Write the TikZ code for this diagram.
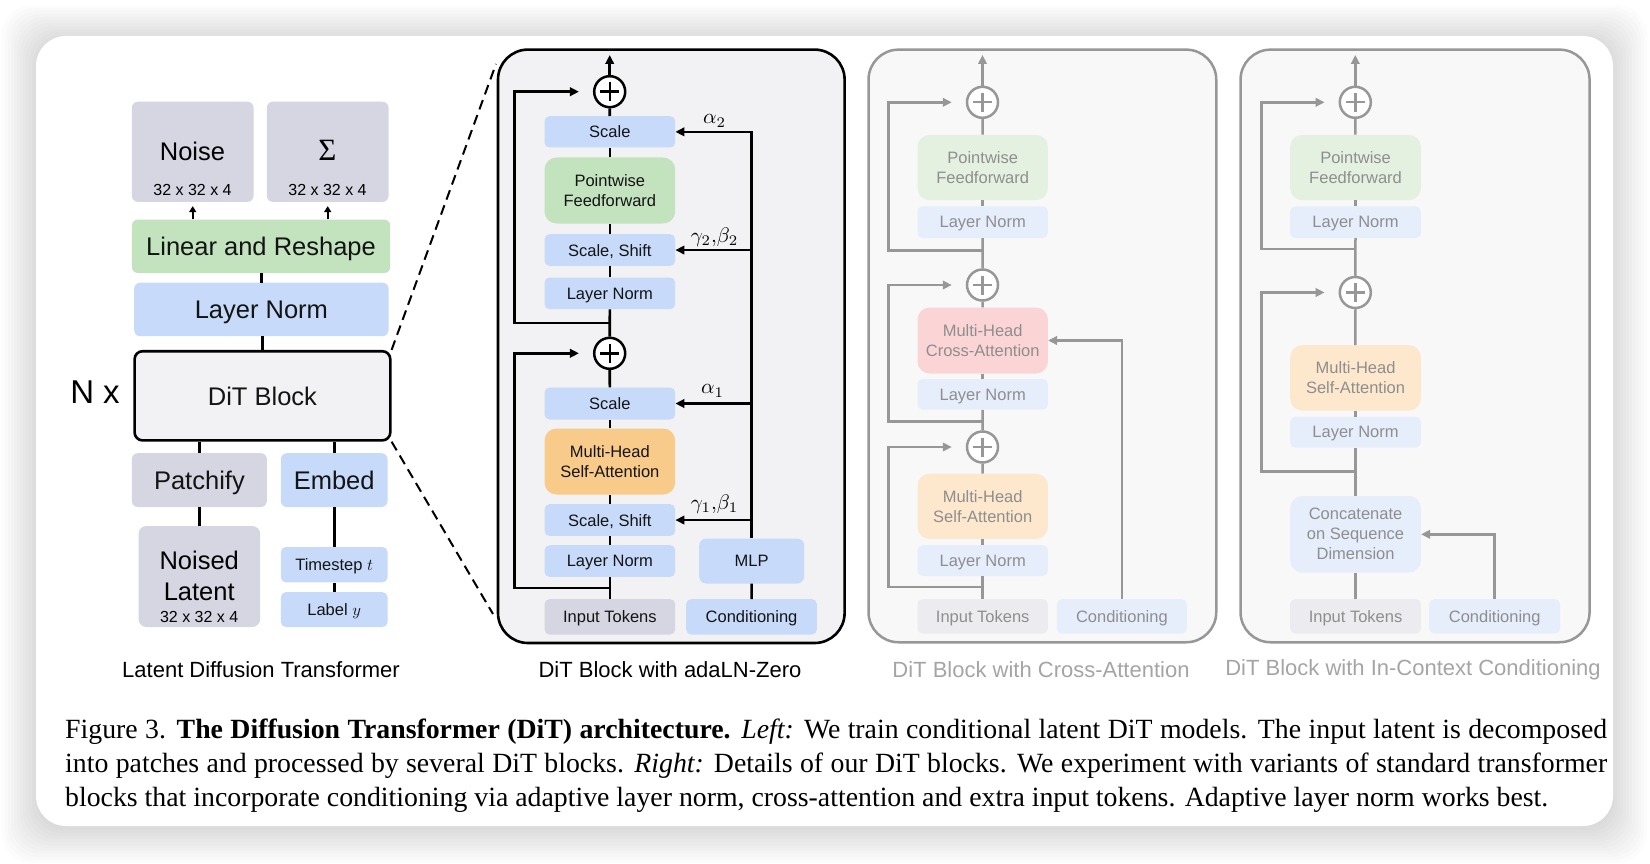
\documentclass[tikz,border=0pt]{standalone}
\usepackage{fontspec}
\setmainfont{Liberation Sans}
\newfontfamily\capserif{Liberation Serif}
\usetikzlibrary{arrows.meta,calc}

\definecolor{boxgray}{HTML}{D5D6E2}
\definecolor{boxgreen}{HTML}{C3E2BE}
\definecolor{boxblue}{HTML}{C7DAFA}
\definecolor{boxorange}{HTML}{F8CB8A}
\definecolor{blockfill}{HTML}{F2F2F5}
\definecolor{fpanel}{HTML}{F8F8F8}
\definecolor{fline}{HTML}{979797}
\definecolor{ftext}{HTML}{8E8E8E}
\definecolor{fgreen}{HTML}{E4F1E1}
\definecolor{fblue}{HTML}{E6EEFC}
\definecolor{fred}{HTML}{FBD5D5}
\definecolor{forange}{HTML}{FDE8CD}
\definecolor{fgray}{HTML}{ECECF0}
\definecolor{ftitle}{HTML}{A5A5A5}

\newcommand\bx[7]{\node[#2, anchor=north west, minimum width={#5-#3}, minimum height={#6-#4}] (#1) at (#3,#4) {#7};}
\newcommand\mth[2]{{\fontsize{10}{12}\selectfont\scalebox{#1}{$#2$}}}

\begin{document}
\begin{tikzpicture}[x=1pt,y=-1pt,
  lbox/.style={rectangle, rounded corners=6pt, inner sep=0pt, align=center, text=black!92, text depth=0pt, font=\fontsize{25.5}{30}\selectfont},
  sbox/.style={rectangle, rounded corners=5pt, inner sep=0pt, align=center, text=black!92, text depth=0pt, font=\fontsize{16.5}{20}\selectfont},
  mbox/.style={rectangle, rounded corners=12pt, inner sep=0pt, align=center, text=black!92, font=\fontsize{16.5}{20}\selectfont},
  fbox/.style={sbox, text=ftext},
  fmbox/.style={mbox, text=ftext},
  blk/.style={line width=2.6pt, draw=black},
  gl/.style={line width=2.5pt, draw=fline},
  arr/.style={-{Triangle[length=9pt,width=8.5pt]}},
  ttl/.style={font=\fontsize{22}{26}\selectfont},
  mlbl/.style={inner sep=0pt},
  plusc/.style={circle, draw=#1, line width=2.5pt, minimum size=31pt, inner sep=0pt, fill=white,
    path picture={\draw[#1, line width=2.4pt] (path picture bounding box.center) +(-9.5,0) -- +(9.5,0) +(0,-9.5) -- +(0,9.5);}},
  plusc/.default=black,
  capl/.style={anchor=base west, inner sep=0pt}
]
\useasboundingbox (0,0) rectangle (1650,864);
\fill[white] (0,0) rectangle (1650,864);
\foreach \r in {34,31,...,1} \fill[black, opacity=0.011, rounded corners=30pt] (36-\r,36-\r+3) rectangle (1613+\r,826+\r+3);
\fill[white, rounded corners=30pt] (36,36) rectangle (1613,826);

% ---------------- Left panel ----------------
\bx{noise}{lbox,fill=boxgray}{131.7}{101.5}{253.3}{201.7}{}
\bx{sigma}{lbox,fill=boxgray}{266.7}{101.5}{388.3}{201.7}{}
\node[font=\fontsize{25.5}{30}\selectfont, inner sep=0pt] (noiset) at (192.5,151) {Noise};
\node[font=\fontsize{16}{19}\selectfont, inner sep=0pt] (noised) at (192.5,190) {32 x 32 x 4};
\node[font=\capserif\fontsize{31}{31}\selectfont, inner sep=0pt] (sigmat) at (327.5,150) {Σ};
\node[font=\fontsize{16}{19}\selectfont, inner sep=0pt] (sigmad) at (327.5,190) {32 x 32 x 4};

\bx{lin}{lbox,fill=boxgreen}{131.7}{219.4}{390}{272.8}{Linear and Reshape}
\bx{lnl}{lbox,fill=boxblue}{134}{282.5}{388.3}{336}{Layer Norm}
\bx{dit}{lbox,fill=blockfill,draw=black,line width=2.6pt,rounded corners=8pt}{133.3}{349.9}{389}{439.1}{DiT Block}
\node[font=\fontsize{33}{36}\selectfont, inner sep=0pt] (nx) at (95,392) {N x};
\bx{patch}{lbox,fill=boxgray}{131.7}{453}{266.7}{506.8}{Patchify}
\bx{embed}{lbox,fill=boxblue}{280.7}{453}{387.3}{506.8}{Embed}
\bx{nl}{lbox,fill=boxgray,rounded corners=8pt}{138.3}{525.8}{260}{626.8}{}
\node[font=\fontsize{25.5}{31.6}\selectfont, align=center, inner sep=0pt] (nlt) at (199.2,576) {Noised\\Latent};
\node[font=\fontsize{16}{19}\selectfont, inner sep=0pt] (nld) at (199.2,616.7) {32 x 32 x 4};
\bx{ts}{sbox,fill=boxblue}{280.7}{546.8}{387.3}{582.2}{Timestep \mth{1.65}{t}}
\bx{lab}{sbox,fill=boxblue}{280.7}{591.9}{387.3}{626.8}{Label \mth{1.65}{y}}
\node[ttl] (ttlL) at (261,670) {Latent Diffusion Transformer};

\draw[line width=3pt] (dit.north) -- (dit.north |- lnl.south);
\draw[line width=3pt] (lnl.north) -- (lnl.north |- lin.south);
\draw[line width=2pt, -{Triangle[length=6pt,width=7pt]}, shorten >=4pt] (lin.north -| noise.south) -- (noise.south);
\draw[line width=2pt, -{Triangle[length=6pt,width=7pt]}, shorten >=4pt] (lin.north -| sigma.south) -- (sigma.south);
\draw[line width=3pt] (patch.north) -- (patch.north |- dit.south);
\draw[line width=3pt] (embed.north) -- (embed.north |- dit.south);
\draw[line width=3pt] (nl.north) -- (nl.north |- patch.south);
\draw[line width=3pt] (ts.north) -- (ts.north |- embed.south);
\draw[line width=3pt] (lab.north) -- (ts.south);

% zoom lines
\coordinate (dA) at (496,64);
\coordinate (dB) at (493,614);
\draw[line width=2pt, dash pattern=on 10pt off 6pt] (dit.north east) -- (dA);
\draw[line width=2pt, dash pattern=on 10pt off 6pt] (dit.south east) -- (dB);

% ---------------- adaLN-Zero panel ----------------
\bx{pA}{fill=blockfill,draw=black,line width=2.6pt,rounded corners=30pt,inner sep=0pt}{496.7}{48.3}{843.3}{641.7}{}
\bx{sc2}{sbox,fill=boxblue}{544.3}{116}{675}{147.3}{Scale}
\bx{pff}{mbox,fill=boxgreen}{544.3}{157.3}{675}{223.3}{Pointwise\\Feedforward}
\bx{ss2}{sbox,fill=boxblue}{544.3}{234}{675}{265.7}{Scale, Shift}
\bx{ln2}{sbox,fill=boxblue}{544.3}{277.3}{675}{309}{Layer Norm}
\node[plusc] (p1) at (609.7,353.3) {};
\node[plusc] (p2) at (609.7,91.7) {};
\bx{sc1}{sbox,fill=boxblue}{544.3}{387.3}{675}{419.3}{Scale}
\bx{mhsa}{mbox,fill=boxorange}{544.3}{428.3}{675}{494.3}{Multi-Head\\Self-Attention}
\bx{ss1}{sbox,fill=boxblue}{544.3}{504}{675}{535.7}{Scale, Shift}
\bx{ln1}{sbox,fill=boxblue}{544.3}{545}{675}{576.7}{Layer Norm}
\bx{in1}{sbox,fill=boxgray}{544.3}{599}{675}{634.3}{Input Tokens}
\bx{cond}{sbox,fill=boxblue}{686}{599}{816.7}{634.3}{Conditioning}
\bx{mlp}{sbox,fill=boxblue,rounded corners=7pt}{699}{538.3}{804}{583.3}{MLP}
\coordinate (outA) at (609.7,55);
\node[ttl] (ttlA) at (670,670) {DiT Block with adaLN-Zero};

\draw[blk] (in1) -- (ln1);
\draw[blk] (ln1) -- (ss1);
\draw[blk] (ss1) -- (mhsa);
\draw[blk] (mhsa) -- (sc1);
\draw[blk] (sc1) -- (p1);
\draw[blk] (p1) -- (ln2);
\draw[blk] (ln2) -- (ss2);
\draw[blk] (ss2) -- (pff);
\draw[blk] (pff) -- (sc2);
\draw[blk] (sc2) -- (p2);
\draw[blk,arr] (p2) -- (outA);
\coordinate (rb1) at ($(in1.north)!0.5!(ln1.south)$);
\coordinate (rb2) at ($(p1.north)!0.5!(ln2.south)$);
\draw[blk,arr] (rb1) -- ++(-95.4,0) |- ([xshift=-14pt]p1.west);
\draw[blk,arr] (rb2) -- ++(-95.4,0) |- ([xshift=-14pt]p2.west);
\draw[blk] (cond) -- (mlp);
\draw[blk,arr] (mlp.north) |- (sc2.east);
\draw[blk,arr] (mlp.north |- ss2.east) -- (ss2.east);
\draw[blk,arr] (mlp.north |- sc1.east) -- (sc1.east);
\draw[blk,arr] (mlp.north |- ss1.east) -- (ss1.east);
\node[mlbl] (a2) at (714.5,121) {\mth{2.1}{\alpha_2}};
\node[mlbl] (g2) at (714.5,237) {\mth{2.1}{\gamma_2{,}\beta_2}};
\node[mlbl] (a1) at (712.5,391) {\mth{2.1}{\alpha_1}};
\node[mlbl] (g1) at (714.5,504.5) {\mth{2.1}{\gamma_1{,}\beta_1}};

% ---------------- Cross-attention panel ----------------
\bx{pC}{fill=fpanel,draw=fline,line width=2.5pt,rounded corners=30pt,inner sep=0pt}{867.3}{48.4}{1215}{641}{}
\bx{cpff}{fmbox,fill=fgreen}{917.3}{134.7}{1047.7}{200}{Pointwise\\Feedforward}
\bx{cln3}{fbox,fill=fblue}{917.3}{206.2}{1047.7}{237.8}{Layer Norm}
\bx{cmhca}{fmbox,fill=fred}{917.3}{307.3}{1047.7}{373.3}{Multi-Head\\Cross-Attention}
\bx{cln2}{fbox,fill=fblue}{917.3}{378.8}{1047.7}{409.5}{Layer Norm}
\bx{cmhsa}{fmbox,fill=forange}{917.3}{473.5}{1047.7}{538.7}{Multi-Head\\Self-Attention}
\bx{cln1}{fbox,fill=fblue}{917.3}{545}{1047.7}{575.8}{Layer Norm}
\bx{cin}{fbox,fill=fgray}{917.3}{599}{1047.7}{633.4}{Input Tokens}
\bx{ccond}{fbox,fill=fblue}{1056.7}{599}{1186.7}{633.4}{Conditioning}
\node[plusc=fline] (cp3) at (982.5,102.3) {};
\node[plusc=fline] (cp2) at (982.5,285) {};
\node[plusc=fline] (cp1) at (982.5,447) {};
\coordinate (outC) at (982.5,55);
\node[ttl, text=ftitle] (ttlC) at (1041,670) {DiT Block with Cross-Attention};

\draw[gl] (cin) -- (cln1);
\draw[gl] (cln1) -- (cmhsa);
\draw[gl] (cmhsa) -- (cp1);
\draw[gl] (cp1) -- (cln2);
\draw[gl] (cln2) -- (cmhca);
\draw[gl] (cmhca) -- (cp2);
\draw[gl] (cp2) -- (cln3);
\draw[gl] (cln3) -- (cpff);
\draw[gl] (cpff) -- (cp3);
\draw[gl,arr] (cp3) -- (outC);
\coordinate (cb1) at (982.5,587);
\coordinate (cb2) at (982.5,421.7);
\coordinate (cb3) at (982.5,250.4);
\draw[gl,arr] (cb1) -- ++(-94,0) |- ([xshift=-14pt]cp1.west);
\draw[gl,arr] (cb2) -- ++(-94,0) |- ([xshift=-14pt]cp2.west);
\draw[gl,arr] (cb3) -- ++(-94,0) |- ([xshift=-14pt]cp3.west);
\draw[gl,arr] (ccond.north) |- (cmhca.east);

% ---------------- In-context panel ----------------
\bx{pI}{fill=fpanel,draw=fline,line width=2.5pt,rounded corners=30pt,inner sep=0pt}{1239.3}{48.4}{1588.3}{641}{}
\bx{ipff}{fmbox,fill=fgreen}{1290}{134.7}{1420.7}{200}{Pointwise\\Feedforward}
\bx{iln2}{fbox,fill=fblue}{1290}{206.2}{1420.7}{237.8}{Layer Norm}
\bx{imhsa}{fmbox,fill=forange}{1290}{345}{1420.7}{410.4}{Multi-Head\\Self-Attention}
\bx{iln1}{fbox,fill=fblue}{1290}{416.7}{1420.7}{447.4}{Layer Norm}
\bx{icat}{fmbox,fill=fblue}{1290}{495.8}{1420.7}{572.4}{Concatenate\\on Sequence\\Dimension}
\bx{iin}{fbox,fill=fgray}{1290}{599}{1420.7}{633.4}{Input Tokens}
\bx{icond}{fbox,fill=fblue}{1429}{599}{1560}{633.4}{Conditioning}
\node[plusc=fline] (ip2) at (1355.3,102.3) {};
\node[plusc=fline] (ip1) at (1355.3,292.5) {};
\coordinate (outI) at (1355.3,55);
\node[ttl, text=ftitle] (ttlI) at (1413,670) {DiT Block with In-Context Conditioning};

\draw[gl] (iin) -- (icat);
\draw[gl] (icat) -- (iln1);
\draw[gl] (iln1) -- (imhsa);
\draw[gl] (imhsa) -- (ip1);
\draw[gl] (ip1) -- (iln2);
\draw[gl] (iln2) -- (ipff);
\draw[gl] (ipff) -- (ip2);
\draw[gl,arr] (ip2) -- (outI);
\coordinate (ib1) at (1355.3,471.4);
\coordinate (ib2) at (1355.3,249.2);
\draw[gl,arr] (ib1) -- ++(-93.6,0) |- ([xshift=-14pt]ip1.west);
\draw[gl,arr] (ib2) -- ++(-93.6,0) |- ([xshift=-14pt]ip2.west);
\draw[gl,arr] (icond.north) |- (icat.east);

% ---------------- Caption ----------------
\node[capl] (cap1) at (65,738) {\hbox to 1542pt{\capserif\fontsize{27.8}{34}\selectfont Figure 3. \textbf{The Diffusion Transformer (DiT) architecture.} \textit{Left:} We train conditional latent DiT models. The input latent is decomposed}};
\node[capl] (cap2) at (65,772.4) {\hbox to 1542pt{\capserif\fontsize{27.8}{34}\selectfont into patches and processed by several DiT blocks. \textit{Right:} Details of our DiT blocks. We experiment with variants of standard transformer}};
\node[capl] (cap3) at (65,806.8) {\capserif\fontsize{27.8}{34}\selectfont blocks that incorporate conditioning via adaptive layer norm, cross-attention and extra input tokens. Adaptive layer norm works best.};
\end{tikzpicture}
\end{document}
